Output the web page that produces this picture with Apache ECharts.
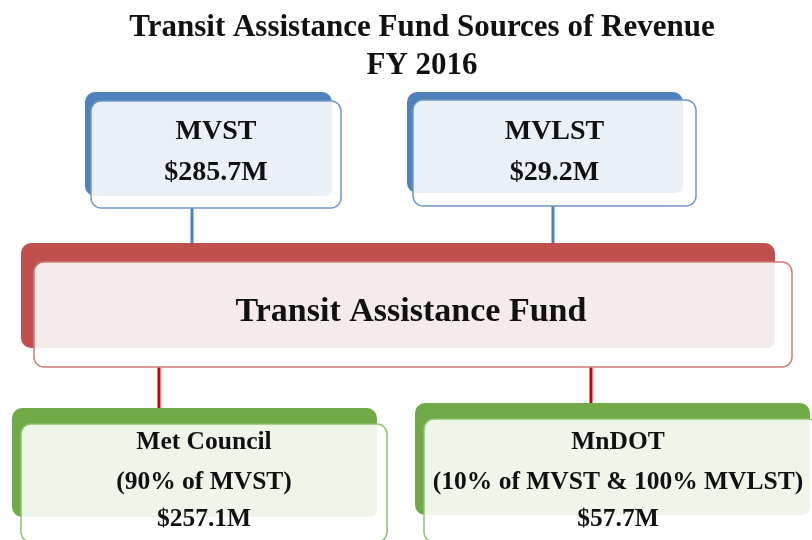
<!DOCTYPE html>
<html>
<head>
<meta charset="utf-8">
<script src="https://cdn.jsdelivr.net/npm/echarts@6/dist/echarts.min.js"></script>
<style>
html, body { margin: 0; padding: 0; background: #fff; }
#chart { width: 812px; height: 540px; }
</style>
</head>
<body>
<div id="chart"></div>
<script>
var titleLines = ['Transit Assistance Fund Sources of Revenue', 'FY 2016'];
var sourceNames = ['MVST', 'MVLST'];
var sourceAmounts = ['$285.7M', '$29.2M'];
var fundName = 'Transit Assistance Fund';
var recipientNames = ['Met Council', 'MnDOT'];
var recipientShares = ['(90% of MVST)', '(10% of MVST & 100% MVLST)'];
var recipientAmounts = ['$257.1M', '$57.7M'];

var serif = '"Liberation Serif", "DejaVu Serif", serif';

// back = solid coloured card, front = outlined card sitting slightly lower right
function card(back, front, colors) {
	return [{
		type: 'rect',
		shape: { x: back[0], y: back[1], width: back[2] - back[0], height: back[3] - back[1], r: 10 },
		style: { fill: colors.back }
	}, {
		type: 'rect',
		shape: { x: front[0], y: front[1], width: front[2] - front[0], height: front[3] - front[1], r: 10 },
		style: { fill: '#fff', stroke: colors.border, lineWidth: 1.5 }
	}, {
		type: 'rect',
		shape: { x: front[0] + 1, y: front[1] + 1, width: back[2] - front[0] - 1, height: back[3] - front[1] - 1, r: [9, 0, 8, 0] },
		style: { fill: colors.light }
	}];
}

function lines(texts, cx, ys, size) {
	var out = [];
	for (var i = 0; i < texts.length; i++) {
		out.push({
			type: 'text',
			x: cx,
			y: ys[i],
			style: {
				text: texts[i],
				fill: '#111',
				font: 'bold ' + size + 'px ' + serif,
				textAlign: 'center',
				textVerticalAlign: 'middle',
				align: 'center',
				verticalAlign: 'middle'
			}
		});
	}
	return out;
}

function connector(x, y1, y2, color) {
	return {
		type: 'line',
		shape: { x1: x, y1: y1, x2: x, y2: y2 },
		style: { stroke: color, lineWidth: 3 }
	};
}

var blue = { back: '#4f81bd', border: '#6f97c9', light: '#eaf0f8' };
var red = { back: '#c0504d', border: '#d07a78', light: '#f6ebeb' };
var green = { back: '#70ab47', border: '#8fc06f', light: '#eff5e9' };

var sourceBack = [[85, 92, 332, 196], [407, 92, 683, 193]];
var sourceFront = [[91, 101, 341, 208], [413, 100, 696, 206]];
var sourceLink = [192, 553];
var recipBack = [[12, 408, 377, 517], [415, 403, 810, 515]];
var recipFront = [[21, 424, 387, 542], [424, 419, 818, 542]];
var recipLink = [159, 591];

var elements = [];
elements = elements.concat(lines(titleLines, 422, [28, 66], 31));

for (var i = 0; i < sourceNames.length; i++) {
	var f = sourceFront[i];
	elements.push(connector(sourceLink[i], f[3], 243, '#4f81bd'));
	elements = elements.concat(card(sourceBack[i], f, blue));
	elements = elements.concat(lines([sourceNames[i], sourceAmounts[i]], (f[0] + f[2]) / 2, [132, 173], 28));
}

for (var i = 0; i < recipientNames.length; i++) {
	var f = recipFront[i];
	elements.push(connector(recipLink[i], 367, recipBack[i][1], '#d00000'));
	elements = elements.concat(card(recipBack[i], f, green));
	elements = elements.concat(lines([recipientNames[i], recipientShares[i], recipientAmounts[i]],
		(f[0] + Math.min(f[2], 812)) / 2, [442, 482, 519], 25.5));
}

elements = elements.concat(card([21, 243, 775, 348], [34, 262, 792, 367], red));
elements = elements.concat(lines([fundName], 411, [312], 34));

var chart = echarts.init(document.getElementById('chart'));
chart.setOption({
	backgroundColor: '#fff',
	animation: false,
	graphic: { elements: elements }
});
</script>
</body>
</html>
